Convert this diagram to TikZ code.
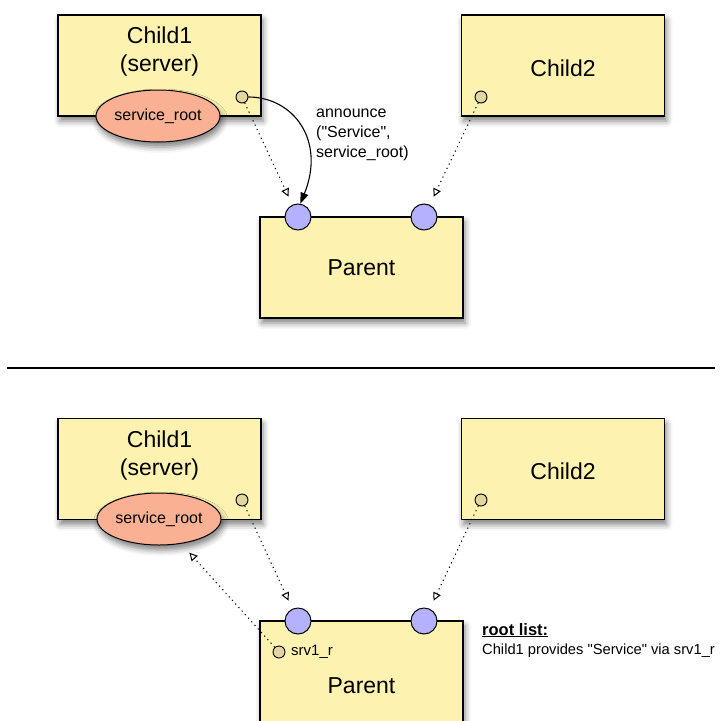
\documentclass[tikz,border=0pt]{standalone}
\usepackage{fontspec}
\setmainfont{Liberation Sans}[Ligatures=TeXOff]
\usetikzlibrary{arrows.meta,shadows.blur,shapes.geometric,calc}
\definecolor{boxfill}{RGB}{253,242,175}
\definecolor{rootfill}{RGB}{250,176,146}
\definecolor{portfill}{RGB}{180,178,255}
\definecolor{smallfill}{RGB}{224,214,158}
\begin{document}
\begin{tikzpicture}[x=1pt,y=-1pt,
  shad/.style={blur shadow={shadow xshift=2pt, shadow yshift=-5pt, shadow blur radius=6pt, shadow opacity=50}},
  compbox/.style={draw=black, line width=1.2pt, fill=boxfill, minimum width=203pt, minimum height=101pt, inner sep=0pt, shad},
  bigtext/.style={font=\fontsize{23}{28}\selectfont, align=center, inner sep=0pt},
  rootell/.style={ellipse, draw=black, line width=1pt, fill=rootfill, minimum width=124pt, minimum height=52pt, inner sep=0pt, font=\fontsize{16}{19}\selectfont, shad},
  port/.style={circle, draw=black, line width=1pt, fill=portfill, minimum size=26pt, inner sep=0pt},
  smallport/.style={circle, draw=black, line width=0.9pt, fill=smallfill, minimum size=12pt, inner sep=0pt},
  dotarrow/.style={line width=1pt, dash pattern=on 1.2pt off 3.6pt, -{Triangle[open, length=8pt, width=8pt]}, shorten >=9pt},
  callarrow/.style={line width=1.1pt, -{Triangle[length=11pt, width=8pt]}},
  labtext/.style={font=\fontsize{16}{20}\selectfont, align=left, inner sep=0pt}
]
\useasboundingbox (0,0) rectangle (727,720);
\clip (0,0) rectangle (727,720);

% ---------- top panel ----------
\node[compbox] (c1) at (159.5,65.5) {};
\node[bigtext] (c1t) at (159.5,52) {Child1\\(server)};
\node[compbox] (c2) at (563,65.5) {};
\node[bigtext] (c2t) at (563,68) {Child2};
\node[compbox] (p) at (361.5,267.5) {};
\node[bigtext] (pt) at (361.5,268) {Parent};
\node[rootell] (sr) at (158,116) {service\_root};
\node[smallport] (c1port) at (242,97) {};
\node[smallport] (c2port) at (481,97) {};
\node[port] (pl) at (298,217) {};
\node[port] (pr) at (424,217) {};

\draw[dotarrow] (c1port) -- (pl);
\draw[dotarrow] (c2port) -- (pr);
\draw[callarrow] (c1port.east) .. controls (293,97) and (326,140) .. (pl.80);
\node[labtext, anchor=west] (ann) at (316,135) {announce\\("Service",\\service\_root)};

% ---------- separator ----------
\coordinate (sepl) at (7,368);
\coordinate (sepr) at (715,368);
\draw[line width=1.5pt] (sepl) -- (sepr);

% ---------- bottom panel ----------
\node[compbox] (bc1) at (159.5,469) {};
\node[bigtext] (bc1t) at (159.5,456) {Child1\\(server)};
\node[compbox] (bc2) at (563,469) {};
\node[bigtext] (bc2t) at (563,471) {Child2};
\node[compbox, minimum height=130pt] (bp) at (361.5,686) {};
\node[bigtext] (bpt) at (361.5,686) {Parent};
\node[rootell] (bsr) at (159,519) {service\_root};
\node[smallport] (bc1port) at (242,500) {};
\node[smallport] (bc2port) at (481,500) {};
\node[port] (bpl) at (298,621) {};
\node[port] (bpr) at (424,621) {};
\node[smallport] (srv) at (279,652) {};
\node[font=\fontsize{15}{18}\selectfont, anchor=west, inner sep=0pt] (srvt) at (291,652) {srv1\_r};

\draw[dotarrow] (bc1port) -- (bpl);
\draw[dotarrow] (bc2port) -- (bpr);
\draw[dotarrow, shorten >=12pt] (srv) -- (bsr);

\node[font=\fontsize{16.5}{20}\selectfont\bfseries, anchor=base west, inner sep=0pt] (rl) at (482,635) {\underline{root list:}};
\node[font=\fontsize{14.7}{18}\selectfont, anchor=base west, inner sep=0pt] (rlt) at (482,654) {Child1 provides "Service" via srv1\_r};
\end{tikzpicture}
\end{document}
